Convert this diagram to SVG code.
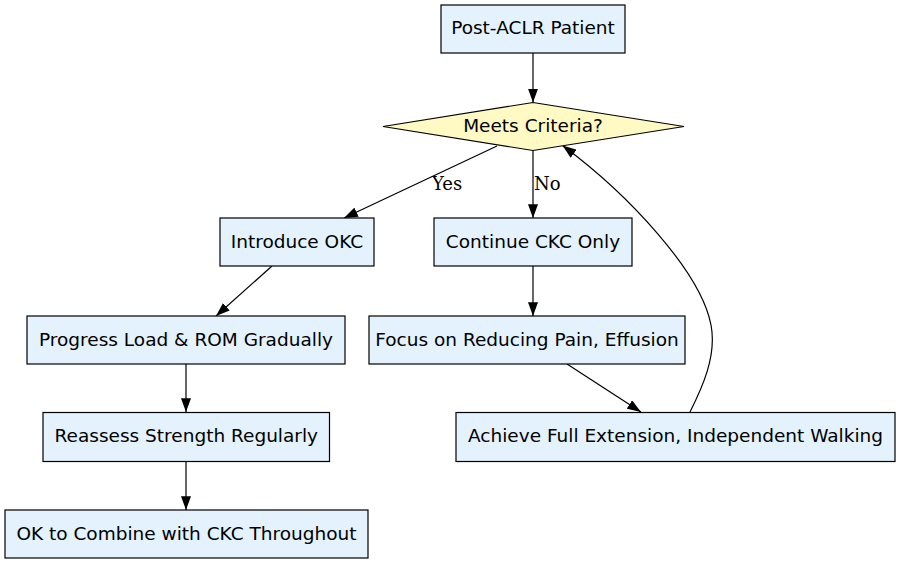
<svg xmlns="http://www.w3.org/2000/svg" width="901" height="564" viewBox="0 0 901 564">
<style>
.box{fill:#e3f2fd;stroke:#000;stroke-width:1.2}
.dia{fill:#fff9c4;stroke:#000;stroke-width:1.2}
.t{font-family:"DejaVu Sans",sans-serif;font-size:18.5px;text-anchor:middle;fill:#000}
.lbl{font-family:"DejaVu Serif",serif;font-size:18px;fill:#000}
.e{fill:none;stroke:#000;stroke-width:1.2}
</style>
<defs>
<marker id="ah" markerUnits="userSpaceOnUse" markerWidth="14" markerHeight="10" viewBox="0 0 13 9.4" refX="13" refY="4.7" orient="auto">
<path d="M0,0 L13,4.7 L0,9.4 z" fill="#000"/>
</marker>
</defs>
<rect width="901" height="564" fill="#fff"/>
<g id="connectors">
<path class="e" d="M533,53 L533,102.5" marker-end="url(#ah)"/>
<path class="e" d="M497,146 L344,218" marker-end="url(#ah)"/>
<path class="e" d="M533,150.5 L533,218" marker-end="url(#ah)"/>
<path class="e" d="M272,266 L216,316" marker-end="url(#ah)"/>
<path class="e" d="M533,266 L533,316" marker-end="url(#ah)"/>
<path class="e" d="M567,364 L641,412" marker-end="url(#ah)"/>
<path class="e" d="M186,364 L186,412" marker-end="url(#ah)"/>
<path class="e" d="M186,461 L186,510" marker-end="url(#ah)"/>
<path class="e" d="M690,412 C702,388 717,356 711,325 C701,272 628,194 562.5,145.5" marker-end="url(#ah)"/>
<text class="lbl" x="432" y="189.5">Yes</text>
<text class="lbl" x="534" y="189.5">No</text>
</g>
<g id="post">
<rect class="box" x="441" y="5" width="184" height="48"/>
<text class="t" x="533" y="34">Post-ACLR Patient</text>
</g>
<g id="criteria">
<polygon class="dia" points="533,102.5 684,126.5 533,150.5 383,126.5"/>
<text class="t" x="533" y="132">Meets Criteria?</text>
</g>
<g id="okc">
<rect class="box" x="220" y="218" width="154" height="48"/>
<text class="t" x="297" y="247.5">Introduce OKC</text>
</g>
<g id="ckc">
<rect class="box" x="434" y="218" width="198" height="48"/>
<text class="t" x="533" y="247.5">Continue CKC Only</text>
</g>
<g id="progress">
<rect class="box" x="27" y="316" width="318" height="48"/>
<text class="t" x="186" y="345.5">Progress Load &amp; ROM Gradually</text>
</g>
<g id="focus">
<rect class="box" x="369" y="316" width="316" height="48"/>
<text class="t" x="527" y="345.5">Focus on Reducing Pain, Effusion</text>
</g>
<g id="reassess">
<rect class="box" x="43" y="412.5" width="286.5" height="49"/>
<text class="t" x="186.3" y="442">Reassess Strength Regularly</text>
</g>
<g id="achieve">
<rect class="box" x="456" y="412.5" width="439" height="49"/>
<text class="t" x="675.5" y="442">Achieve Full Extension, Independent Walking</text>
</g>
<g id="combine">
<rect class="box" x="5" y="510" width="363" height="48"/>
<text class="t" x="186.5" y="539.5">OK to Combine with CKC Throughout</text>
</g>
</svg>
